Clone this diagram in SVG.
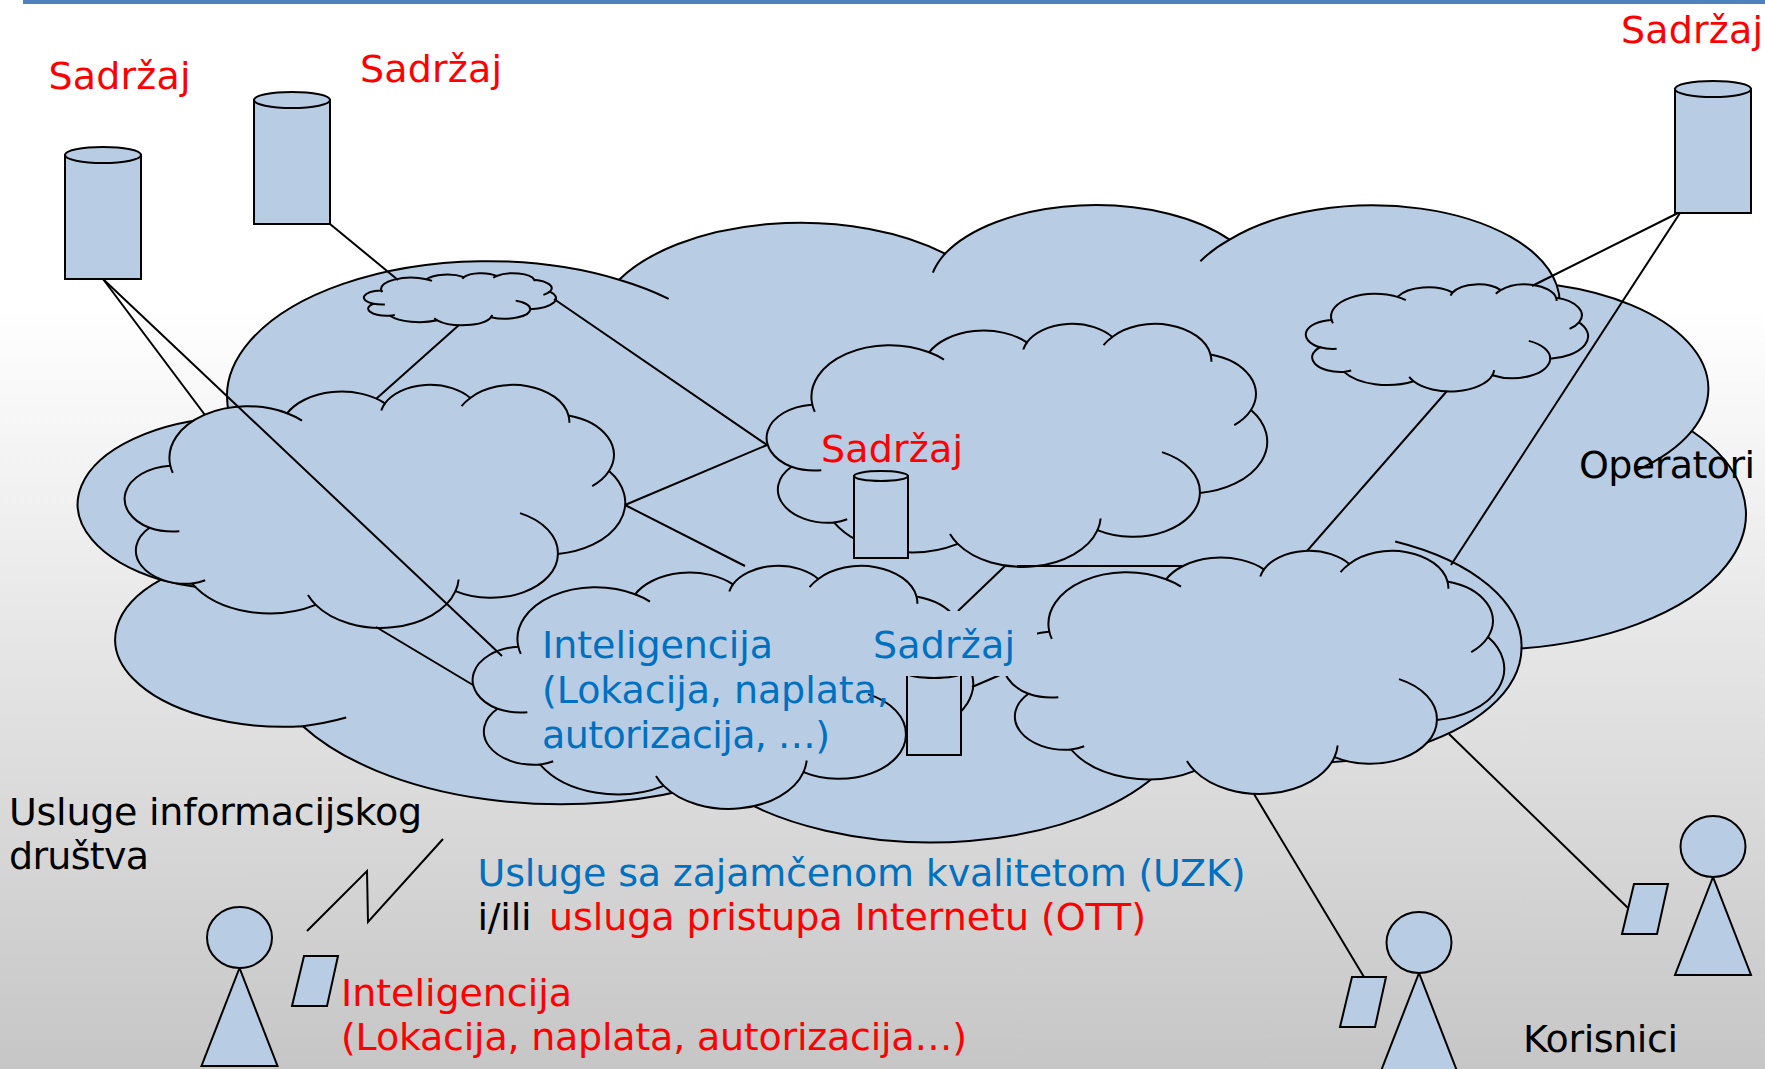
<svg xmlns="http://www.w3.org/2000/svg" xmlns:xlink="http://www.w3.org/1999/xlink" width="1765" height="1069" viewBox="0 0 1765 1069">
<style>
.s{fill:#b8cce4;stroke:#000;stroke-width:2;vector-effect:non-scaling-stroke}
.o{fill:none;stroke:#000;stroke-width:2;vector-effect:non-scaling-stroke}
.c line,.c polyline{stroke:#000;stroke-width:2;fill:none}
text{font-family:"DejaVu Sans","Liberation Sans",sans-serif;font-size:38px}
.r{fill:#ff0000}.b{fill:#0070c0}.k{fill:#000}
</style>
<defs>
<linearGradient id="bg" x1="0" y1="0" x2="0" y2="1"><stop offset="0.287" stop-color="#ffffff"/><stop offset="1" stop-color="#c6c6c6"/></linearGradient>
<path id="co" class="s" d="M3900 14370A6753 9190 0 0 1 14005 5203A5333 7267 0 0 1 22457 3435A4365 5945 0 0 1 29835 2484A4857 6595 0 0 1 38319 5581A5333 7273 0 0 1 41819 15465A6775 9220 0 0 1 37405 30210A5785 7867 0 0 1 28556 36820A6752 9215 0 0 1 16482 39272A7720 10543 0 0 1 5806 35479A4360 5918 0 0 1 2115 25557A4345 5945 0 0 1 3866 14514Z"/>
<path id="ci" class="o" d="M4129 15800A6753 9190 0 0 1 3900 14370M14005 5203A6753 9190 0 0 1 15290 6500M22141 4720A4365 5945 0 0 1 22457 3435M29078 3952A4857 6595 0 0 1 29835 2484M38319 5581A4857 6595 0 0 1 38394 6878M41819 15465A5333 7273 0 0 1 40370 18143M34129 22954A5785 7867 0 0 1 37405 30210M28827 34751A6752 9215 0 0 1 28556 36820M16482 39272A6752 9215 0 0 1 15810 37530M6928 34899A4360 5918 0 0 1 5806 35479M4693 26177A4345 5945 0 0 1 2115 25557"/>
<g id="cloud"><use xlink:href="#co" href="#co"/><use xlink:href="#ci" href="#ci"/></g>
<g id="cyl"><rect class="s" x="0" y="8" width="76" height="124"/><ellipse class="s" cx="38" cy="8" rx="38" ry="8"/></g>
<g id="cyl2"><rect class="s" x="0" y="5" width="54" height="82"/><ellipse class="s" cx="27" cy="5" rx="27" ry="5"/></g>
<g id="person"><polygon class="s" points="33,61 -5,159 71,159"/><ellipse class="s" cx="33" cy="30.500" rx="32.500" ry="30.500"/></g>
<polygon id="dev" class="s" points="12,0 46,0 35,50 0,50"/>
</defs>
<rect width="1765" height="1069" fill="url(#bg)"/>
<rect x="23" y="0" width="1742" height="4" fill="#4f81bd"/>
<g id="cloud-operatori"><use href="#cloud" transform="translate(79 203) scale(.038565 .014745)"/></g>
<g id="cloud-a"><use href="#cloud" transform="translate(364 273) scale(.004444 .001204)"/></g>
<g id="cloud-b"><use href="#cloud" transform="translate(1306 284) scale(.006528 .002477)"/></g>
<g id="cloud-c"><use href="#cloud" transform="translate(767 323) scale(.011574 .005625)"/></g>
<g id="cloud-d"><use href="#cloud" transform="translate(125 384) scale(.011574 .005625)"/></g>
<g id="cloud-e"><use href="#cloud" transform="translate(473 565) scale(.011574 .005625)"/></g>
<g id="cylinder-center"><use href="#cyl2" x="854" y="471"/></g>
<g id="cylinder-e"><use href="#cyl2" x="907" y="668"/></g>
<g id="connectors" class="c">
<line x1="103" y1="279" x2="205" y2="415"/>
<line x1="103" y1="279" x2="502" y2="656"/>
<line x1="330" y1="224" x2="398" y2="280"/>
<line x1="459" y1="325" x2="376" y2="399"/>
<line x1="554" y1="299" x2="767" y2="445"/>
<line x1="625" y1="505" x2="767" y2="445"/>
<line x1="625" y1="505" x2="745" y2="566"/>
<line x1="376" y1="627" x2="473" y2="685"/>
<line x1="1017" y1="566" x2="1185" y2="566"/>
<line x1="1005" y1="566" x2="958" y2="611"/>
<line x1="972" y1="687" x2="1000" y2="675"/>
<line x1="1447" y1="391" x2="1307" y2="551"/>
<line x1="1678" y1="213" x2="1532" y2="286"/>
<line x1="1680" y1="213" x2="1451" y2="565"/>
<line x1="1449" y1="734" x2="1628" y2="908"/>
<line x1="1254" y1="794" x2="1364" y2="977"/>
<polyline points="307,931 367,871 368,922 443,839"/>
</g>
<g id="cloud-f"><use href="#cloud" transform="translate(1004 550) scale(.011574 .005625)"/></g>
<rect x="862" y="611" width="175" height="65" fill="#b8cce4"/>
<g id="cylinder-1"><use href="#cyl" x="65" y="147"/></g>
<g id="cylinder-2"><use href="#cyl" x="254" y="92"/></g>
<g id="cylinder-3"><use href="#cyl" x="1675" y="81"/></g>
<g id="user-1"><use href="#person" x="206.500" y="907"/><use href="#dev" x="292" y="956"/></g>
<g id="user-2"><use href="#person" x="1680" y="816"/><use href="#dev" x="1622" y="884"/></g>
<g id="user-3"><use href="#person" x="1386" y="912"/><use href="#dev" x="1340" y="977"/></g>
<g id="labels">
<text class="r" x="48.500" y="89" textLength="142">Sadržaj</text>
<text class="r" x="360" y="82" textLength="142">Sadržaj</text>
<text class="r" x="1621" y="43" textLength="142">Sadržaj</text>
<text class="r" x="821" y="462" textLength="142">Sadržaj</text>
<text class="b" x="873" y="658" textLength="142">Sadržaj</text>
<text class="k" x="1579" y="478" textLength="176">Operatori</text>
<text class="b" x="542" y="658" textLength="231">Inteligencija</text>
<text class="b" x="542" y="703" textLength="347">(Lokacija, naplata,</text>
<text class="b" x="542" y="748" textLength="288">autorizacija, …)</text>
<text class="k" x="9" y="825" textLength="413">Usluge informacijskog</text>
<text class="k" x="9" y="869" textLength="140">društva</text>
<text class="b" x="477.500" y="886" textLength="768">Usluge sa zajamčenom kvalitetom (UZK)</text>
<text class="k" x="477.500" y="930" textLength="54">i/ili</text>
<text class="r" x="549" y="930" textLength="597">usluga pristupa Internetu (OTT)</text>
<text class="r" x="341" y="1006" textLength="231">Inteligencija</text>
<text class="r" x="341" y="1050" textLength="626">(Lokacija, naplata, autorizacija…)</text>
<text class="k" x="1523" y="1052" textLength="155">Korisnici</text>
</g>
</svg>
